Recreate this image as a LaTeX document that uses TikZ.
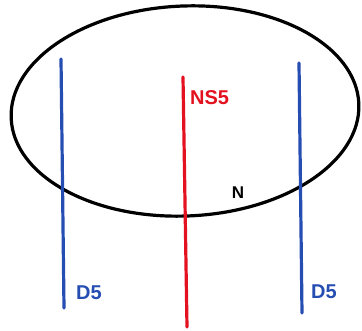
\documentclass[tikz,border=0pt]{standalone}
\usepackage{fontspec}
\setmainfont{Liberation Sans}
\usepackage{tikz}
\usetikzlibrary{positioning}
\definecolor{branblue}{RGB}{38,78,178}
\definecolor{branred}{RGB}{228,18,32}

\begin{document}
\begin{tikzpicture}[x=1pt,y=-1pt,
    brane/.style={line width=3.2pt,line cap=round},
    lbl/.style={font=\fontsize{20}{22}\selectfont\bfseries,inner sep=0pt}]
  \useasboundingbox (0,0) rectangle (362,331);
  % the circle direction
  \draw[line width=3.2pt,rotate around={2.4:(185,111)}] (185,111) ellipse [x radius=174, y radius=105];
  \node[lbl,font=\fontsize{17}{19}\selectfont\bfseries] (nlab) at (238,193) {N};
  % branes
  \coordinate (d5at) at (61,59);   \coordinate (d5ab) at (64,308);
  \coordinate (ns5t) at (183,77);  \coordinate (ns5b) at (187,327);
  \coordinate (d5bt) at (299,63);  \coordinate (d5bb) at (302,313);
  \draw[brane,branblue] (d5at) -- (d5ab);
  \draw[brane,branred] (ns5t) -- (ns5b);
  \draw[brane,branblue] (d5bt) -- (d5bb);
  \node[lbl,branred,anchor=west] (ns5lab) at (190,98) {NS5};
  \node[lbl,branblue,anchor=west] (d5alab) at (76,293) {D5};
  \node[lbl,branblue,anchor=west] (d5blab) at (311,292) {D5};
\end{tikzpicture}
\end{document}
